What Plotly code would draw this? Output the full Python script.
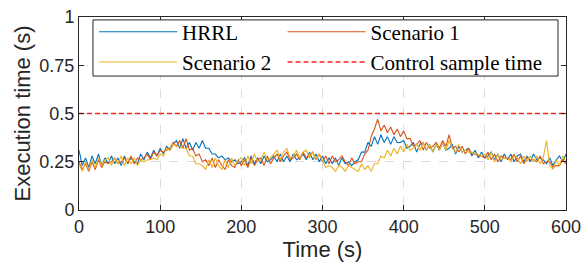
import plotly.graph_objects as go

time_s = list(range(0, 601, 4))

hrrl = [
    0.31, 0.23, 0.27, 0.22, 0.28, 0.24, 0.29, 0.23, 0.27, 0.24,
    0.28, 0.24, 0.27, 0.23, 0.28, 0.24, 0.27, 0.25, 0.24, 0.29,
    0.26, 0.30, 0.27, 0.31, 0.28, 0.32, 0.29, 0.33, 0.31, 0.34,
    0.36, 0.32, 0.37, 0.32, 0.35, 0.31, 0.35, 0.32, 0.36, 0.32,
    0.32, 0.29, 0.29, 0.27, 0.28, 0.26, 0.27, 0.25, 0.26, 0.24,
    0.25, 0.27, 0.23, 0.28, 0.24, 0.27, 0.24, 0.28, 0.25, 0.26,
    0.28, 0.25, 0.29, 0.25, 0.28, 0.25, 0.29, 0.26, 0.27, 0.29,
    0.26, 0.30, 0.26, 0.29, 0.25, 0.28, 0.24, 0.27, 0.24, 0.27,
    0.23, 0.27, 0.24, 0.25, 0.23, 0.25, 0.26, 0.30, 0.30, 0.35,
    0.33, 0.38, 0.34, 0.39, 0.35, 0.38, 0.34, 0.38, 0.35, 0.35,
    0.36, 0.32, 0.33, 0.35, 0.30, 0.34, 0.35, 0.31, 0.34, 0.30,
    0.34, 0.31, 0.35, 0.31, 0.32, 0.34, 0.29, 0.33, 0.30, 0.31,
    0.32, 0.28, 0.31, 0.27, 0.30, 0.27, 0.28, 0.30, 0.26, 0.29,
    0.25, 0.29, 0.26, 0.29, 0.25, 0.28, 0.29, 0.25, 0.28, 0.25,
    0.29, 0.26, 0.27, 0.26, 0.24, 0.27, 0.23, 0.26, 0.28, 0.25,
    0.29,
]

scenario1 = [
    0.25, 0.21, 0.24, 0.20, 0.25, 0.21, 0.26, 0.22, 0.25, 0.24,
    0.25, 0.27, 0.24, 0.25, 0.27, 0.24, 0.28, 0.24, 0.27, 0.26,
    0.27, 0.29, 0.26, 0.30, 0.28, 0.31, 0.30, 0.31, 0.32, 0.35,
    0.33, 0.36, 0.32, 0.37, 0.31, 0.32, 0.28, 0.29, 0.25, 0.26,
    0.23, 0.27, 0.22, 0.26, 0.23, 0.21, 0.26, 0.23, 0.22, 0.26,
    0.23, 0.26, 0.22, 0.27, 0.23, 0.26, 0.27, 0.23, 0.28, 0.24,
    0.27, 0.29, 0.25, 0.28, 0.30, 0.26, 0.27, 0.29, 0.26, 0.30,
    0.27, 0.28, 0.30, 0.26, 0.29, 0.25, 0.28, 0.24, 0.28, 0.25,
    0.26, 0.28, 0.25, 0.23, 0.27, 0.24, 0.25, 0.25, 0.29, 0.31,
    0.38, 0.42, 0.47, 0.41, 0.44, 0.40, 0.43, 0.39, 0.42, 0.38,
    0.41, 0.37, 0.37, 0.33, 0.34, 0.36, 0.31, 0.35, 0.32, 0.33,
    0.35, 0.32, 0.36, 0.33, 0.39, 0.32, 0.33, 0.30, 0.33, 0.29,
    0.32, 0.29, 0.29, 0.28, 0.28, 0.27, 0.30, 0.26, 0.29, 0.25,
    0.28, 0.27, 0.27, 0.26, 0.29, 0.25, 0.28, 0.24, 0.27, 0.26,
    0.26, 0.25, 0.28, 0.24, 0.25, 0.25, 0.22, 0.23, 0.23, 0.26,
    0.24,
]

scenario2 = [
    0.24, 0.20, 0.25, 0.21, 0.26, 0.22, 0.27, 0.23, 0.26, 0.27,
    0.23, 0.27, 0.24, 0.28, 0.23, 0.27, 0.24, 0.27, 0.23, 0.26,
    0.25, 0.26, 0.26, 0.27, 0.26, 0.29, 0.28, 0.32, 0.31, 0.34,
    0.33, 0.33, 0.32, 0.32, 0.28, 0.28, 0.24, 0.24, 0.23, 0.21,
    0.26, 0.22, 0.27, 0.23, 0.21, 0.26, 0.22, 0.27, 0.23, 0.26,
    0.27, 0.23, 0.28, 0.24, 0.29, 0.25, 0.26, 0.30, 0.26, 0.27,
    0.29, 0.31, 0.26, 0.30, 0.32, 0.27, 0.28, 0.31, 0.27, 0.30,
    0.31, 0.27, 0.30, 0.26, 0.29, 0.25, 0.22, 0.23, 0.22, 0.20,
    0.23, 0.22, 0.20, 0.23, 0.22, 0.21, 0.20, 0.24, 0.21, 0.23,
    0.20, 0.24, 0.24, 0.28, 0.27, 0.31, 0.28, 0.32, 0.29, 0.33,
    0.30, 0.34, 0.31, 0.32, 0.34, 0.31, 0.35, 0.31, 0.34, 0.30,
    0.34, 0.31, 0.35, 0.31, 0.36, 0.32, 0.30, 0.34, 0.30, 0.31,
    0.30, 0.30, 0.29, 0.29, 0.28, 0.29, 0.26, 0.30, 0.25, 0.29,
    0.26, 0.27, 0.27, 0.25, 0.28, 0.27, 0.24, 0.28, 0.25, 0.28,
    0.25, 0.28, 0.24, 0.27, 0.36, 0.23, 0.21, 0.26, 0.23, 0.28,
    0.25,
]

control_x = [0, 600]
control_y = [0.5, 0.5]

x_ticks = [0, 100, 200, 300, 400, 500, 600]
y_ticks = [0, 0.25, 0.5, 0.75, 1]
y_tick_labels = ["0", "0.25", "0.5", "0.75", "1"]

fig = go.Figure()
fig.add_trace(go.Scatter(x=time_s, y=hrrl, mode="lines", name="HRRL",
                         legend="legend",
                         line=dict(color="#0072BD", width=1.1)))
fig.add_trace(go.Scatter(x=time_s, y=scenario1, mode="lines", name="Scenario 1",
                         legend="legend2",
                         line=dict(color="#D95319", width=1.1)))
fig.add_trace(go.Scatter(x=time_s, y=scenario2, mode="lines", name="Scenario 2",
                         legend="legend",
                         line=dict(color="#EDB120", width=1.1)))
fig.add_trace(go.Scatter(x=control_x, y=control_y, mode="lines",
                         name="Control sample time", legend="legend2",
                         line=dict(color="#FF2020", width=1.5, dash="5px,3px")))

sans = "Liberation Sans, Arial"
axis_common = dict(
    showline=True, linecolor="#262626", linewidth=1, mirror="ticks",
    ticks="inside", ticklen=5, tickcolor="#262626",
    showgrid=True, gridcolor="#DCDCDC", griddash="dash", gridwidth=1,
    zeroline=False,
    tickfont=dict(family=sans, size=18, color="#262626"),
)

fig.update_xaxes(range=[0, 600], tickvals=x_ticks, automargin="bottom",
                 title=dict(text="Time (s)", standoff=2,
                            font=dict(family=sans, size=22, color="#262626")),
                 **axis_common)
fig.update_yaxes(range=[0, 1], tickvals=y_ticks, ticktext=y_tick_labels,
                 automargin="left",
                 title=dict(text="Execution time (s)", standoff=2,
                            font=dict(family=sans, size=22, color="#262626")),
                 **axis_common)

legend_font = dict(family="Liberation Serif, Times New Roman", size=21, color="black")
legend_common = dict(
    orientation="v", xanchor="left", yanchor="top",
    bgcolor="rgba(0,0,0,0)", borderwidth=0,
    font=legend_font, itemwidth=78, tracegroupgap=0,
)

# legend frame (decoration enclosing both legend columns)
fig.add_shape(type="rect", xref="paper", yref="paper",
              x0=0.0287, x1=0.9836, y0=0.694, y1=0.985,
              line=dict(color="#262626", width=1), fillcolor="white",
              layer="above")

fig.update_layout(
    width=582, height=268,
    margin=dict(l=79, r=16, t=14, b=58),
    plot_bgcolor="white", paper_bgcolor="white",
    legend=dict(x=0.031, y=1.028, **legend_common),
    legend2=dict(x=0.418, y=1.028, **legend_common),
)

# remove the default 8px page margin so the 582x268 figure fills the window
fig.write_html("out.html",
               config={"displayModeBar": False},
               post_script="document.body.style.margin='0';document.body.style.overflow='hidden';")
